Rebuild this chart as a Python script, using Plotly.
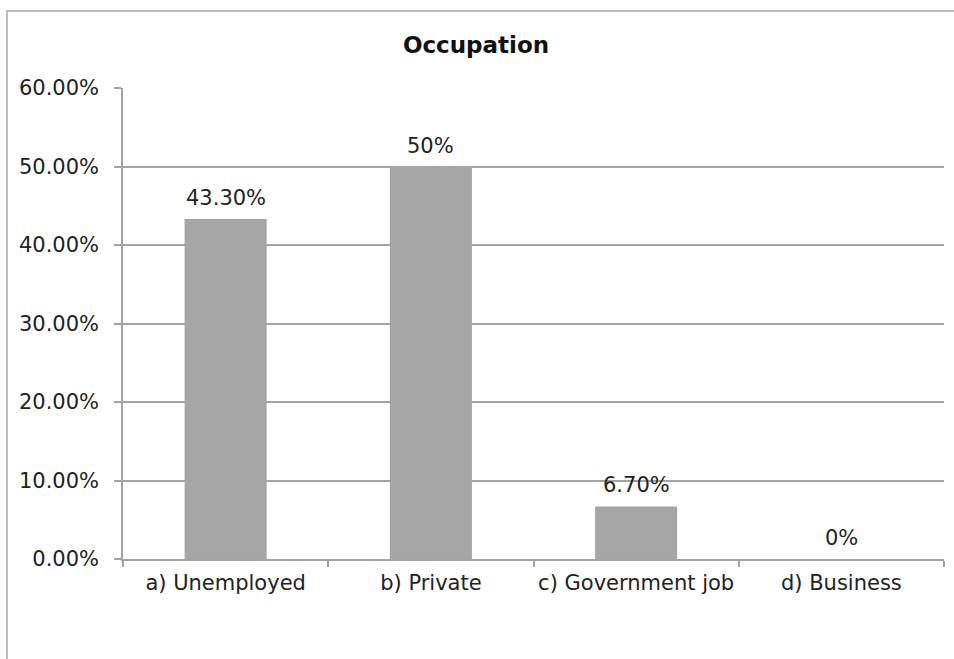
import plotly.graph_objects as go

categories = ["a) Unemployed", "b) Private", "c) Government job", "d) Business"]
values = [0.433, 0.50, 0.067, 0.0]
labels = ["43.30%", "50%", "6.70%", "0%"]
y_ticks = [0, 0.1, 0.2, 0.3, 0.4, 0.5, 0.6]
y_tick_text = ["0.00%", "10.00%", "20.00%", "30.00%", "40.00%", "50.00%", "60.00%"]

W, H = 954, 659
ml, mr, mt, mb = 123, 10, 88, 100
pw, ph = W - ml - mr, H - mt - mb
grid = "#A3A3A3"
font_fam = "DejaVu Sans, Verdana, sans-serif"
fs = 21

fig = go.Figure()
fig.add_trace(go.Bar(
    x=categories, y=values,
    marker=dict(color="#A5A5A5", line=dict(width=0)),
    width=0.4, hoverinfo="x+y",
))
for c, v, t in zip(categories, values, labels):
    fig.add_annotation(x=c, y=v, text=t, showarrow=False, yanchor="bottom",
                       yshift=7, font=dict(size=fs, color="#222222", family=font_fam))

fig.update_layout(
    width=W, height=H,
    margin=dict(l=ml, r=mr, t=mt, b=mb, autoexpand=False),
    paper_bgcolor="white", plot_bgcolor="white",
    showlegend=False,
    title=dict(text="Occupation", x=476 / W, xanchor="center", y=1 - 45 / H, yanchor="middle",
               font=dict(size=23, color="#111111", family=font_fam, weight="bold")),
    font=dict(family=font_fam, color="#222222"),
    bargap=0.6,
)
fig.update_xaxes(
    showline=True, linecolor=grid, linewidth=1.5,
    ticks="outside", tickson="boundaries", ticklen=6, tickcolor=grid, tickwidth=1.5,
    tickfont=dict(size=fs, color="#222222"), tickangle=0, automargin=False,
    ticklabelstandoff=4,
    showgrid=False,
)
fig.update_yaxes(
    range=[0, 0.6], tickvals=y_ticks, ticktext=y_tick_text,
    showline=True, linecolor=grid, linewidth=1.5,
    showgrid=True, gridcolor=grid, gridwidth=1.5,
    ticks="outside", ticklen=7, tickcolor=grid, tickwidth=1.5,
    tickfont=dict(size=fs, color="#222222"), automargin=False,
    ticklabelstandoff=11,
    zeroline=False,
)
# outer chart border
fig.add_shape(type="rect", xref="paper", yref="paper",
              x0=(7 - ml) / pw, x1=(W + 20 - ml) / pw,
              y0=-(H + 20 - mt - ph) / ph, y1=(H - mb - 11) / ph,
              line=dict(color="#A8A8A8", width=1.5), fillcolor="rgba(0,0,0,0)", layer="below")

fig.write_html("out.html")
